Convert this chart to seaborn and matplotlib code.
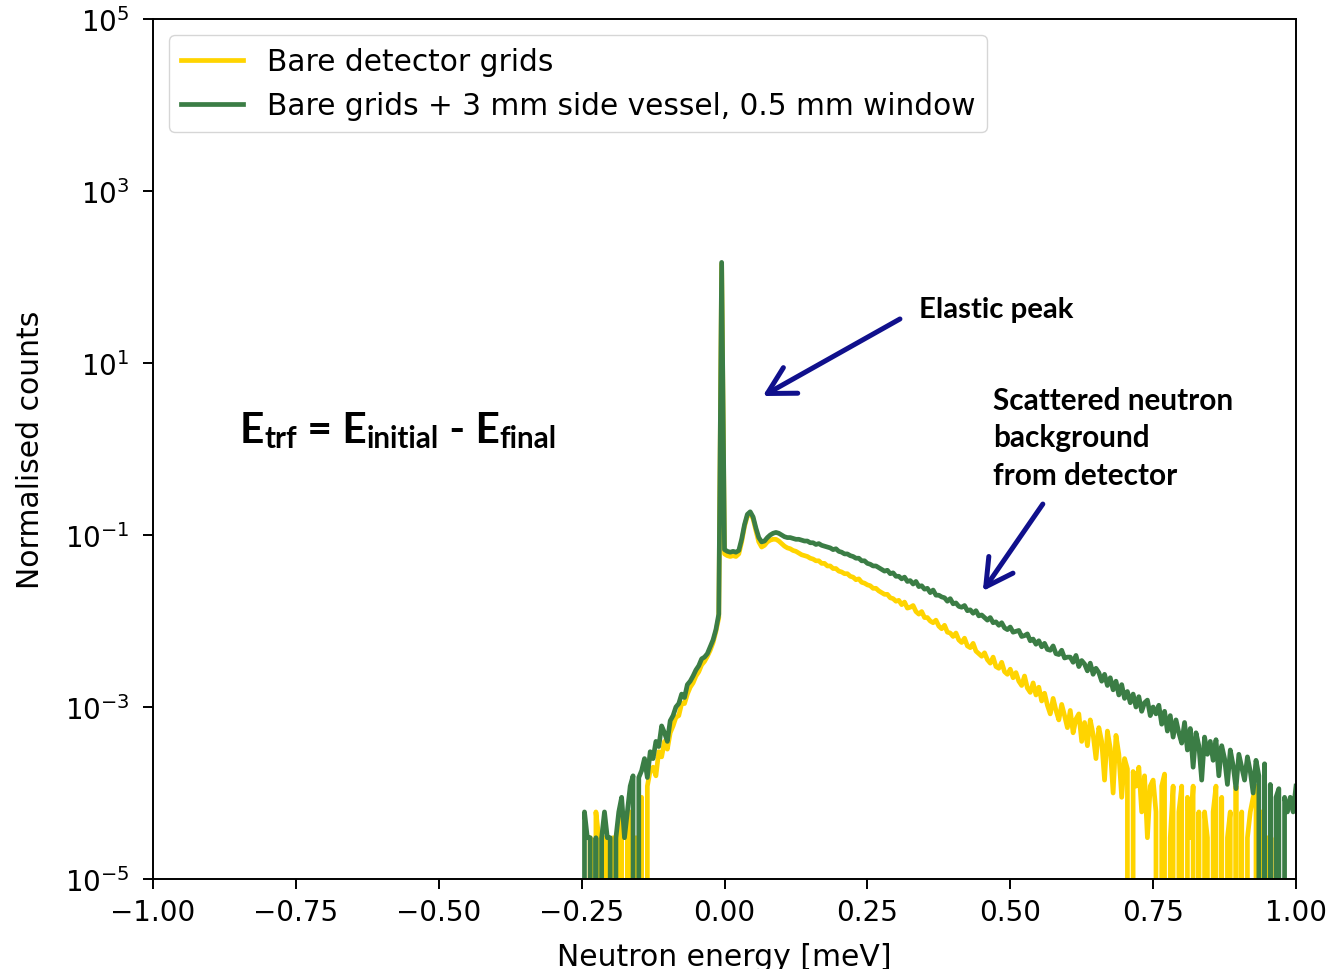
import numpy as np
import pandas as pd
import matplotlib
matplotlib.use("Agg")
import matplotlib.pyplot as plt
from matplotlib.ticker import NullLocator
import seaborn as sns

# log10 of normalised counts per 0.005 meV bin; EMPTY marks a bin with no counts
EMPTY = float("-inf")

# bins from -0.250 to 0.000 meV (energy gain side and elastic line)
bare_rise = [
    EMPTY, EMPTY, EMPTY, -4.52, EMPTY, -4.22, -4.52, EMPTY, -4.52, -4.52,
    EMPTY, -4.52, EMPTY, -4.52, -4.22, EMPTY, -4.52, -4.22, EMPTY, -4.52,
    EMPTY, -4.05, EMPTY, -3.92, -3.74, -3.70, -3.80, -3.52, -3.58, -3.40,
    -3.49, -3.30, -3.22, -3.12, -3.10, -2.96, -2.96, -2.85, -2.77, -2.72,
    -2.64, -2.59, -2.51, -2.47, -2.41, -2.34, -2.25, -2.12, -1.96, 2.15,
    -1.22,
]
vessel_rise = [
    EMPTY, -4.22, -4.52, -4.52, EMPTY, -4.52, EMPTY, -4.52, -4.22, -4.52,
    -4.52, EMPTY, -4.52, -4.22, -4.05, -4.52, -4.22, -3.92, -3.80, EMPTY,
    -3.82, -3.74, -3.60, -3.82, -3.52, -3.60, -3.40, -3.46, -3.22, -3.30,
    -3.40, -3.16, -3.10, -3.00, -2.96, -2.85, -2.89, -2.74, -2.70, -2.64,
    -2.57, -2.52, -2.44, -2.42, -2.38, -2.30, -2.22, -2.10, -1.92, 2.17,
    -1.17,
]

# bins from 0.005 to 1.000 meV (energy loss side)
bare_tail = [
    -1.24, -1.25, -1.24, -1.25, -1.22, -1.08, -0.90, -0.78, -0.75, -0.81,
    -0.95, -1.08, -1.14, -1.12, -1.08, -1.06, -1.05, -1.05, -1.07, -1.10,
    -1.13, -1.15, -1.16, -1.18, -1.19, -1.21, -1.23, -1.24, -1.25, -1.27,
    -1.28, -1.30, -1.30, -1.33, -1.33, -1.36, -1.36, -1.39, -1.39, -1.42,
    -1.43, -1.45, -1.45, -1.48, -1.49, -1.52, -1.51, -1.55, -1.56, -1.58,
    -1.59, -1.62, -1.62, -1.65, -1.67, -1.69, -1.69, -1.73, -1.74, -1.77,
    -1.76, -1.81, -1.78, -1.85, -1.84, -1.82, -1.89, -1.92, -1.89, -1.96,
    -1.96, -2.00, -2.02, -1.99, -2.06, -2.09, -2.05, -2.13, -2.14, -2.18,
    -2.14, -2.22, -2.25, -2.20, -2.29, -2.31, -2.26, -2.35, -2.38, -2.41,
    -2.37, -2.45, -2.49, -2.42, -2.53, -2.55, -2.48, -2.59, -2.62, -2.56,
    -2.66, -2.60, -2.70, -2.75, -2.64, -2.78, -2.83, -2.72, -2.86, -2.77,
    -2.93, -2.84, -2.98, -3.08, -2.90, -3.04, -3.15, -2.97, -3.10, -3.24,
    -3.04, -3.30, -3.14, -3.08, -3.40, -3.18, -3.45, -3.15, -3.32, -3.60,
    -3.24, -3.40, -3.85, -3.28, -3.48, -4.00, -3.33, -3.55, -4.05, -3.60,
    -3.72, EMPTY, -3.75, -3.92, -3.70, -4.22, -3.80, -4.52, -3.92, -3.85,
    -4.22, EMPTY, -3.92, -3.78, EMPTY, -4.52, -3.92, EMPTY, -4.22, -3.92,
    EMPTY, -4.05, -4.52, -3.92, EMPTY, -4.22, EMPTY, -4.22, -4.52, EMPTY,
    -4.22, -3.92, EMPTY, -4.05, EMPTY, -4.52, -4.22, EMPTY, -3.92, EMPTY,
    -4.22, EMPTY, -4.52, -4.22, -4.05, -3.92, EMPTY, -4.22, EMPTY, -4.52,
    EMPTY, EMPTY, -4.52, EMPTY, EMPTY, EMPTY, EMPTY, EMPTY, EMPTY, EMPTY,
]
vessel_tail = [
    -1.19, -1.20, -1.19, -1.20, -1.18, -1.05, -0.88, -0.76, -0.73, -0.79,
    -0.92, -1.03, -1.08, -1.07, -1.03, -1.00, -0.98, -0.97, -0.98, -1.00,
    -1.02, -1.03, -1.03, -1.04, -1.05, -1.05, -1.06, -1.07, -1.07, -1.09,
    -1.09, -1.11, -1.10, -1.12, -1.13, -1.14, -1.15, -1.17, -1.16, -1.19,
    -1.20, -1.22, -1.22, -1.24, -1.25, -1.27, -1.27, -1.30, -1.30, -1.33,
    -1.34, -1.36, -1.36, -1.38, -1.40, -1.42, -1.41, -1.45, -1.44, -1.48,
    -1.48, -1.51, -1.49, -1.54, -1.53, -1.57, -1.54, -1.60, -1.59, -1.63,
    -1.62, -1.67, -1.64, -1.70, -1.70, -1.72, -1.73, -1.77, -1.74, -1.80,
    -1.79, -1.83, -1.84, -1.82, -1.88, -1.87, -1.91, -1.88, -1.94, -1.93,
    -1.96, -1.99, -1.96, -2.02, -2.01, -2.05, -2.02, -2.08, -2.10, -2.07,
    -2.13, -2.12, -2.11, -2.18, -2.17, -2.15, -2.23, -2.21, -2.27, -2.23,
    -2.30, -2.26, -2.33, -2.34, -2.29, -2.38, -2.39, -2.34, -2.43, -2.42,
    -2.42, -2.48, -2.40, -2.53, -2.46, -2.50, -2.58, -2.49, -2.62, -2.55,
    -2.60, -2.70, -2.62, -2.75, -2.66, -2.80, -2.70, -2.86, -2.74, -2.90,
    -2.82, -2.95, -2.85, -3.00, -2.88, -3.05, -2.95, -2.92, -3.10, -3.00,
    -3.08, -2.98, -3.20, -3.05, -3.28, -3.10, -3.35, -3.15, -3.30, -3.42,
    -3.18, -3.50, -3.25, -3.70, -3.30, -3.45, -3.85, -3.35, -3.55, -3.40,
    -3.62, -3.38, -3.80, -3.45, -3.60, -3.90, -3.50, -3.68, -3.95, -3.55,
    -3.70, -3.85, -3.58, -3.75, -4.00, -3.62, -3.80, EMPTY, -3.66, EMPTY,
    -3.90, EMPTY, -4.05, -3.95, EMPTY, -4.05, -4.22, -4.05, -4.22, -3.92,
]

setups = ["Bare detector grids", "Bare grids + 3 mm side vessel, 0.5 mm window"]
colors = ["#ffd400", "#3b7d45"]

bare = np.array(bare_rise + bare_tail)
vessel = np.array(vessel_rise + vessel_tail)
energy = np.linspace(-0.25, 1.0, len(bare))

df = pd.DataFrame({
    "energy": np.concatenate([energy, energy]),
    "counts": np.power(10.0, np.concatenate([bare, vessel])),
    "setup": np.repeat(setups, len(energy)),
})

plt.rcParams["font.family"] = ["DejaVu Sans"]
fig = plt.figure(figsize=(13.28, 9.70), dpi=100)
ax = fig.add_axes([153 / 1328, 90 / 970, 1143 / 1328, 860 / 970])

sns.lineplot(data=df, x="energy", y="counts", hue="setup", hue_order=setups,
             palette=dict(zip(setups, colors)), estimator=None, sort=False,
             lw=3.4, legend=False, ax=ax)

ax.set_yscale("log")
ax.set_xlim(-1.0, 1.0)
ax.set_ylim(1e-5, 1e5)
ax.set_yticks([1e-5, 1e-3, 1e-1, 1e1, 1e3, 1e5])
ax.yaxis.set_minor_locator(NullLocator())
ax.set_xticks([-1.0, -0.75, -0.5, -0.25, 0.0, 0.25, 0.5, 0.75, 1.0])
ax.tick_params(labelsize=20, length=7, width=1.4)
ax.tick_params(axis="y", pad=10)
ax.tick_params(axis="x", pad=7)
for s in ax.spines.values():
    s.set_linewidth(1.4)
ax.set_xlabel("Neutron energy [meV]", fontsize=21.5, labelpad=11)
ax.set_ylabel("Normalised counts", fontsize=21.5, labelpad=14)

ax.legend(ax.lines[:2], setups, loc="upper left", fontsize=21.3,
          handlelength=2.1, borderaxespad=0.55)

# annotations
ann_font = dict(family="Lato", fontweight="bold", color="black")
arrow_kw = dict(arrowstyle="->,head_length=0.4,head_width=0.22",
                color="#10108c", lw=3.6, mutation_scale=48, shrinkA=0, shrinkB=0)

ax.text(0.340, 34.3, "Elastic peak", fontsize=21.2, va="baseline", ha="left", **ann_font)
ax.annotate("", xy=(0.067, 4.13), xytext=(0.307, 32.5), arrowprops=arrow_kw)

ax.text(0.470, 0.392, "Scattered neutron\nbackground\nfrom detector", fontsize=21.4,
        va="baseline", ha="left", linespacing=1.42, **ann_font)
ax.annotate("", xy=(0.452, 0.0223), xytext=(0.557, 0.229), arrowprops=arrow_kw)

# energy-transfer relation with subscripts
pieces = [("E", False), ("trf", True), (" = E", False), ("initial", True),
          (" - E", False), ("final", True)]
base = ax.text(-0.848, 1.206, pieces[0][0], fontsize=30.6, va="baseline", ha="left", **ann_font)
prev = base
for txt, is_sub in pieces[1:]:
    if is_sub:
        prev = ax.annotate(txt, xy=(1, 0), xycoords=(prev, base), xytext=(0, 1.5),
                           textcoords="offset points", fontsize=21.3,
                           va="baseline", ha="left", **ann_font)
    else:
        prev = ax.annotate(txt, xy=(1, 0), xycoords=(prev, base), fontsize=30.6,
                           va="bottom", ha="left", **ann_font)

fig.savefig("out.png", dpi=100)
